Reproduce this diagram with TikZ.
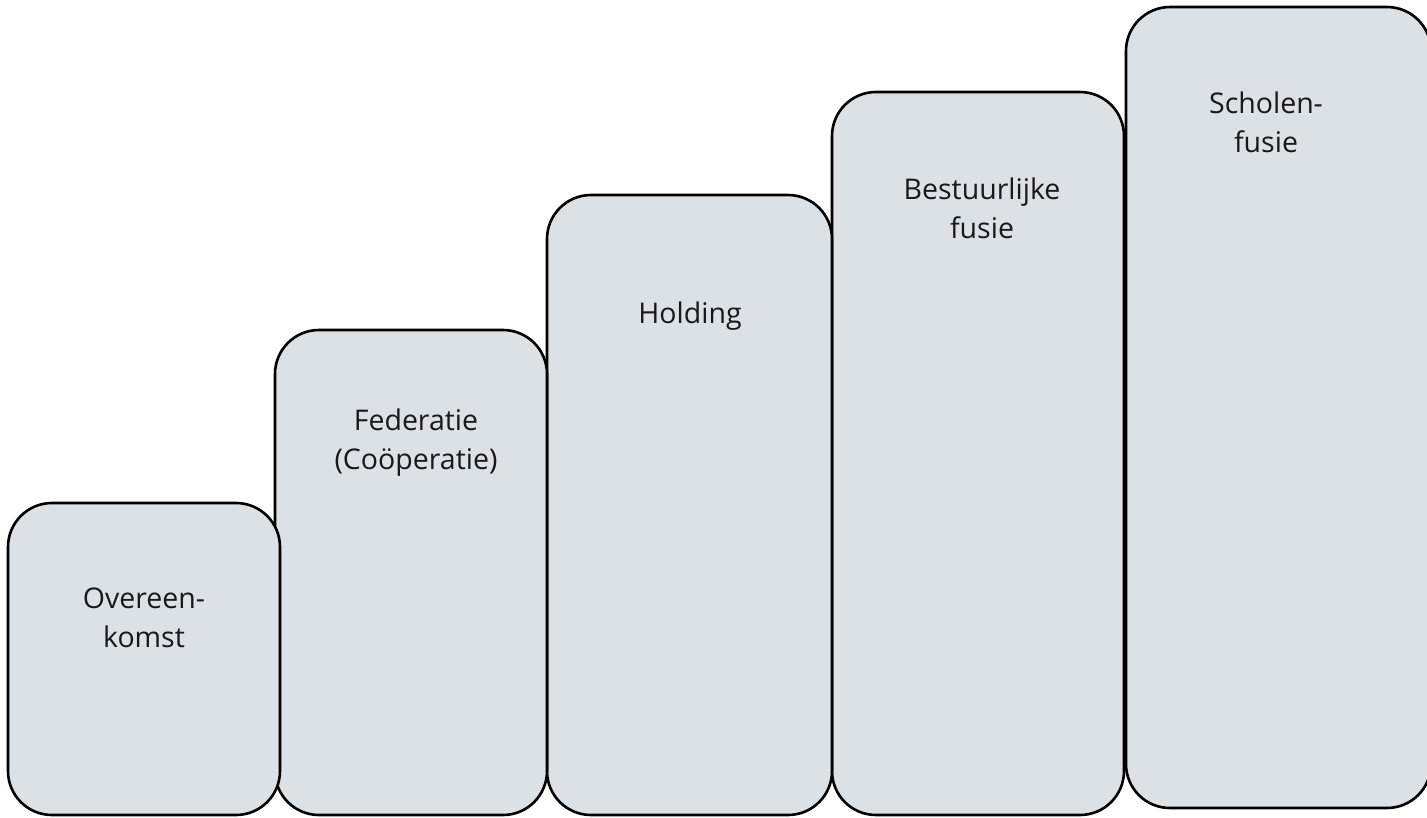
\documentclass[tikz,border=0pt]{standalone}
\usepackage{fontspec}
\setmainfont{Open Sans}
\definecolor{boxfill}{RGB}{219,225,229}
\begin{document}
\begin{tikzpicture}[x=1pt,y=-1pt,
  stepbox/.style={draw=black,fill=boxfill,line width=2.6pt,rounded corners=44pt,inner sep=0pt,rectangle},
  lbl/.style={align=center,font=\fontsize{28.5}{39}\selectfont,text=black!90,inner sep=0pt}]
\useasboundingbox (0,0) rectangle (1427,817);
\begin{scope}
\clip (0,0) rectangle (1427,817);
\node[stepbox,minimum width=305pt,minimum height=801pt] (b5) at (1278.5,407.5) {};
\node[stepbox,minimum width=292pt,minimum height=723pt] (b4) at (978,453.5) {};
\node[stepbox,minimum width=285pt,minimum height=620pt] (b3) at (689.5,505) {};
\node[stepbox,minimum width=272pt,minimum height=485pt] (b2) at (411,572.5) {};
\node[stepbox,minimum width=272pt,minimum height=312pt] (b1) at (144,659) {};
\end{scope}
\node[lbl] (t1) at (144,617.5) {Overeen-\\komst};
\node[lbl] (t2) at (416,443) {Federatie\\(Coöperatie)};
\node[lbl] (t3) at (690,316) {Holding};
\node[lbl] (t4) at (982,208) {Bestuurlijke\\fusie};
\node[lbl] (t5) at (1266,122) {Scholen-\\fusie};
\end{tikzpicture}
\end{document}
